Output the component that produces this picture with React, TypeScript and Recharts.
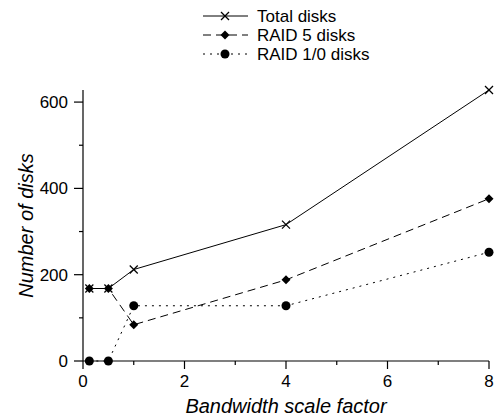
import React from 'react';
import { LineChart, Line, XAxis, YAxis, Legend, Label } from 'recharts';

// bandwidth scale factors on the x axis
const scaleFactors = [0.125, 0.5, 1, 4, 8];
const totalDisks = [168, 168, 212, 316, 628];
const raid5Disks = [168, 168, 84, 188, 376];
const raid10Disks = [0, 0, 128, 128, 252];

const xTicks = [0, 1, 2, 3, 4, 5, 6, 7, 8];
const yTicks = [0, 100, 200, 300, 400, 500, 600];

const data = scaleFactors.map((f, i) => ({
    f,
    total: totalDisks[i],
    raid5: raid5Disks[i],
    raid10: raid10Disks[i],
}));

const FONT = '"Liberation Sans", Arial, sans-serif';

type Shape = 'cross' | 'diamond' | 'circle';

function marker(shape: Shape, cx: number, cy: number, key?: string | number) {
    if (shape === 'cross') {
        return (
            <g key={key}>
                <line x1={cx - 4} y1={cy - 4} x2={cx + 4} y2={cy + 4} stroke="#000" strokeWidth={1.2} />
                <line x1={cx - 4} y1={cy + 4} x2={cx + 4} y2={cy - 4} stroke="#000" strokeWidth={1.2} />
            </g>
        );
    }
    if (shape === 'diamond') {
        return <polygon key={key} points={`${cx},${cy - 4.5} ${cx + 4.5},${cy} ${cx},${cy + 4.5} ${cx - 4.5},${cy}`} fill="#000" />;
    }
    return <circle key={key} cx={cx} cy={cy} r={4.5} fill="#000" />;
}

const seriesDefs: { key: string; name: string; dash?: string; shape: Shape }[] = [
    { key: 'total', name: 'Total disks', shape: 'cross' },
    { key: 'raid5', name: 'RAID 5 disks', dash: '8 5', shape: 'diamond' },
    { key: 'raid10', name: 'RAID 1/0 disks', dash: '2 5', shape: 'circle' },
];

const XTick = (props: any) => {
    const { x, y, payload } = props;
    const major = payload.value % 2 === 0;
    return (
        <g>
            <line x1={x} x2={x} y1={y} y2={y + (major ? 8 : 4)} stroke="#000" strokeWidth={1.2} />
            {major && (
                <text x={x} y={y + 14} dy="0.71em" textAnchor="middle" fontSize={17} fontFamily={FONT} fill="#000">
                    {payload.value}
                </text>
            )}
        </g>
    );
};

const YTick = (props: any) => {
    const { x, y, payload } = props;
    const major = payload.value % 200 === 0;
    return (
        <g>
            <line x1={x - (major ? 9 : 4)} x2={x} y1={y} y2={y} stroke="#000" strokeWidth={1.2} />
            {major && (
                <text x={x - 15} y={y} dy="0.355em" textAnchor="end" fontSize={17} fontFamily={FONT} fill="#000">
                    {payload.value}
                </text>
            )}
        </g>
    );
};

const LegendBox = () => (
    <svg width={497} height={70}>
        {seriesDefs.map((s, i) => {
            const y = 16 + i * 19;
            return (
                <g key={s.key}>
                    <line x1={203} x2={248} y1={y} y2={y} stroke="#000" strokeWidth={1} strokeDasharray={s.dash} />
                    {marker(s.shape, 225, y)}
                    <text x={257} y={y} dy="0.355em" fontSize={17} fontFamily={FONT} fill="#000">{s.name}</text>
                </g>
            );
        })}
    </svg>
);

export default function App() {
    return (
        <div style={{ position: 'absolute', left: 0, top: 0, background: '#fff' }}>
            <LineChart width={497} height={419} data={data} margin={{ top: 90, right: 8, left: 0, bottom: 0 }}>
                <Legend
                    layout="horizontal"
                    verticalAlign="middle"
                    wrapperStyle={{ top: 0, left: 0, width: 497, height: 70 }}
                    content={() => <LegendBox />}
                />
                <XAxis
                    dataKey="f"
                    type="number"
                    domain={[0, 8]}
                    ticks={xTicks}
                    interval={0}
                    height={58}
                    tickSize={0}
                    tickMargin={0}
                    tickLine={false}
                    tick={<XTick />}
                    axisLine={{ stroke: '#000', strokeWidth: 1.2 }}
                >
                    <Label
                        value="Bandwidth scale factor"
                        position="insideBottom"
                        offset={6}
                        style={{ fontStyle: 'italic', fontSize: 20, fontFamily: FONT, fill: '#000' }}
                    />
                </XAxis>
                <YAxis
                    type="number"
                    domain={[0, 628]}
                    ticks={yTicks}
                    interval={0}
                    width={83}
                    tickSize={0}
                    tickMargin={0}
                    tickLine={false}
                    tick={<YTick />}
                    axisLine={{ stroke: '#000', strokeWidth: 1.2 }}
                >
                    <Label
                        content={(p: any) => {
                            const vb = p.viewBox || { y: 90, height: 271 };
                            const cy = vb.y + vb.height / 2;
                            return (
                                <text
                                    x={33}
                                    y={cy}
                                    transform={`rotate(-90, 33, ${cy})`}
                                    textAnchor="middle"
                                    fontStyle="italic"
                                    fontSize={20}
                                    fontFamily={FONT}
                                    fill="#000"
                                >
                                    Number of disks
                                </text>
                            );
                        }}
                    />
                </YAxis>
                {seriesDefs.map((s) => (
                    <Line
                        key={s.key}
                        type="linear"
                        dataKey={s.key}
                        name={s.name}
                        stroke="#000"
                        strokeWidth={1}
                        strokeDasharray={s.dash}
                        isAnimationActive={false}
                        dot={(p: any) => marker(s.shape, p.cx, p.cy, `${s.key}-${p.index}`)}
                        activeDot={false}
                    />
                ))}
            </LineChart>
        </div>
    );
}
